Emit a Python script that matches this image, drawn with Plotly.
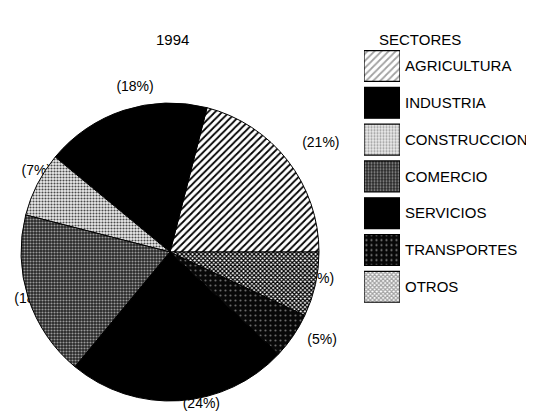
import math
import plotly.graph_objects as go

# ---- data ----
title_year = "1994"
legend_title = "SECTORES"
sectors = ["AGRICULTURA", "INDUSTRIA", "CONSTRUCCION", "COMERCIO",
           "SERVICIOS", "TRANSPORTES", "OTROS"]
shares = [21, 18, 7, 18, 24, 5, 7]

# ---- styles ----
W, H = 534, 414
FONT = "Liberation Sans"
pat_shape = ["/", "", ".", ".", "", ".", "x"]
pat_fg = ["#000000", "#000000", "#4a4a4a", "#9a9a9a", "#000000", "#6a6a6a", "#000000"]
pat_bg = ["#ffffff", "#000000", "#ececec", "#262626", "#000000", "#080808", "#ffffff"]
pat_size = [5, 8, 3, 3, 8, 5, 3]
pat_solid = [0.35, 0.3, 0.4, 0.4, 0.3, 0.15, 0.65]
base_colors = ["#ffffff", "#000000", "#ececec", "#262626", "#000000", "#080808", "#ffffff"]

# pie geometry (pixels)
cx, cy, R = 162, 244, 149
# label placement style: distance from centre and angular nudge per label
label_r = [186, 168, 156, 145, 156, 176, 152]
label_shift = [-2, -6, -4, 1, 8, 4, 2]

total = sum(shares)
# first slice begins at 3 o'clock and the slices run counterclockwise
start_rotation = 90 - shares[0] / total * 360

# label positions derived from slice angles (counterclockwise from 3 o'clock)
lx, ly, ltxt = [], [], []
cum = 0
for i, v in enumerate(shares):
    mid = (cum + v / 2) / total * 360 + label_shift[i]
    cum += v
    a = math.radians(mid)
    lx.append(cx + label_r[i] * math.cos(a))
    ly.append(cy - label_r[i] * math.sin(a))
    ltxt.append(f"({v}%)")

fig = go.Figure()

# percentage labels (drawn beneath the pie so the pie can overlap them)
fig.add_trace(go.Scatter(
    x=lx, y=ly, text=ltxt, mode="text",
    textfont=dict(family=FONT, size=14, color="black"),
    textposition="middle center", hoverinfo="skip", showlegend=False,
    xaxis="x", yaxis="y"))

fig.add_trace(go.Pie(
    labels=sectors, values=shares, sort=False, direction="counterclockwise",
    rotation=start_rotation, textinfo="none", showlegend=False,
    domain=dict(x=[(cx - R) / W, (cx + R) / W], y=[1 - (cy + R) / H, 1 - (cy - R) / H]),
    marker=dict(colors=base_colors, line=dict(color="black", width=1),
                pattern=dict(shape=pat_shape, fgcolor=pat_fg, bgcolor=pat_bg,
                             size=pat_size, solidity=pat_solid))))

# legend swatches as patterned bars
fig.add_trace(go.Bar(
    y=sectors, x=[1] * len(sectors), orientation="h", showlegend=False,
    xaxis="x2", yaxis="y2", hoverinfo="skip",
    marker=dict(color=base_colors, line=dict(color="black", width=1.2),
                pattern=dict(shape=pat_shape, fgcolor=pat_fg, bgcolor=pat_bg,
                             size=pat_size, solidity=pat_solid))))

pitch = 36.8
top_c, n = 58, len(sectors)
y2_top = top_c - pitch / 2
y2_bot = top_c + pitch * (n - 1) + pitch / 2

fig.update_layout(
    width=W, height=H, margin=dict(l=0, r=0, t=0, b=0),
    paper_bgcolor="white", plot_bgcolor="rgba(0,0,0,0)",
    bargap=0.16,
    xaxis=dict(domain=[0, 1], range=[0, W], visible=False, fixedrange=True),
    yaxis=dict(domain=[0, 1], range=[H, 0], visible=False, fixedrange=True),
    xaxis2=dict(domain=[356 / W, 392 / W], range=[0, 1], visible=False,
                anchor="y2", fixedrange=True),
    yaxis2=dict(domain=[1 - y2_bot / H, 1 - y2_top / H], anchor="x2",
                type="category", autorange="reversed", side="right",
                showgrid=False, zeroline=False, showline=False,
                ticks="outside", ticklen=1, tickcolor="rgba(0,0,0,0)",
                tickfont=dict(family=FONT, size=15, color="black"),
                fixedrange=True),
    annotations=[
        dict(text=title_year, x=146 / W, y=1 - 21 / H, xref="paper", yref="paper",
             showarrow=False, font=dict(family=FONT, size=15, color="black")),
        dict(text=legend_title, x=455 / W, y=1 - 21 / H, xref="paper", yref="paper",
             showarrow=False, font=dict(family=FONT, size=15, color="black")),
    ],
)

fig.write_html("out.html")
